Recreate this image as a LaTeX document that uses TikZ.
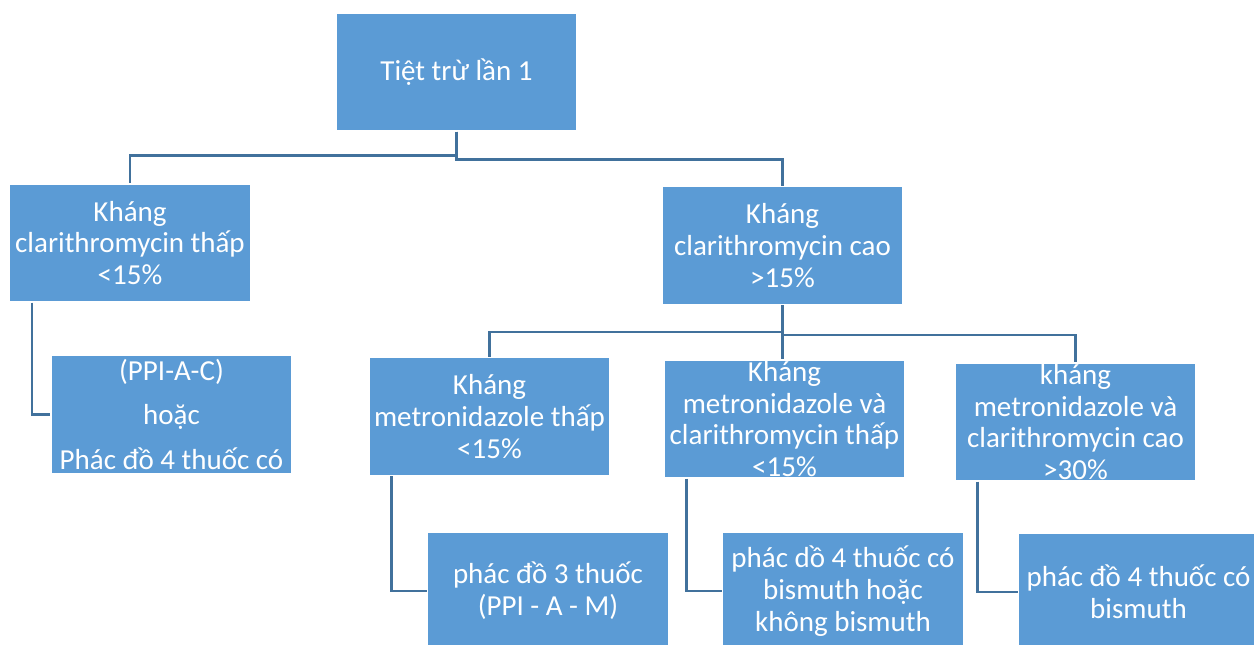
\documentclass[tikz,border=0pt]{standalone}
\usepackage{fontspec}
\setmainfont{Carlito}
\usepackage{xcolor}
\usepackage{tikz}
\usetikzlibrary{positioning,calc}
\definecolor{boxblue}{HTML}{5B9BD5}
\definecolor{linkblue}{HTML}{41719C}
\tikzset{
  treebox/.style={rectangle, fill=boxblue, draw=white, line width=0.6pt, align=center,
                  text=white, inner xsep=2pt, inner ysep=0pt,
                  minimum width=4.82cm, minimum height=2.36cm,
                  font=\fontsize{16.5}{18.1}\selectfont},
  treelink/.style={draw=linkblue, line width=1.5pt},
}

\begin{document}
\begin{tikzpicture}[x=0.02cm, y=-0.02cm]
    \useasboundingbox (0,0) rectangle (1254,645);
    \clip (0,0) rectangle (1254,645);
    \node[treebox] (a) at (456.5,72)  {Tiệt trừ lần 1};
    \node[treebox] (b) at (130,243)   {Kháng\\clarithromycin thấp\\<15\%};
    \node[treebox] (c) at (782.5,245.5) {Kháng\\clarithromycin cao\\>15\%};
    \node[treebox] (d) at (171.5,414.5) {(PPI-A-C)\\[7pt]hoặc\\[7pt]Phác đồ 4 thuốc có};
    \node[treebox] (e) at (489.5,416.5) {Kháng\\metronidazole thấp\\<15\%};
    \node[treebox] (f) at (784.5,419) {Kháng\\metronidazole và\\clarithromycin thấp\\<15\%};
    \node[treebox] (g) at (1075.5,422) {kháng\\metronidazole và\\clarithromycin cao\\>30\%};
    % treatment regimens, bottom row
    \node[treebox] (h) at (548,591)    {phác đồ 3 thuốc\\(PPI - A - M)};
    \node[treebox] (i) at (843,591)    {phác dồ 4 thuốc có\\bismuth hoặc\\không bismuth};
    \node[treebox] (j) at (1138.5,592) {phác đồ 4 thuốc có\\bismuth};
    \draw[treelink] (a.south) -- ++(0,24) -| (b.north);
    \draw[treelink] (a.south) -- ++(0,28) -| (c.north);
    \draw[treelink] (c.south) -- ++(0,27) -| (e.north);
    \draw[treelink] (c.south) -- ++(0,30) -| (g.north);
    \draw[treelink] (c.south) -- (c.south |- f.north);
    % side elbows down to the regimens
    \draw[treelink] ($(b.south west)+(23,0)$) |- (d.west);
    \draw[treelink] ($(e.south west)+(23,0)$) |- (h.west);
    \draw[treelink] ($(f.south west)+(23,0)$) |- (i.west);
    \draw[treelink] ($(g.south west)+(23,0)$) |- (j.west);
\end{tikzpicture}
\end{document}
